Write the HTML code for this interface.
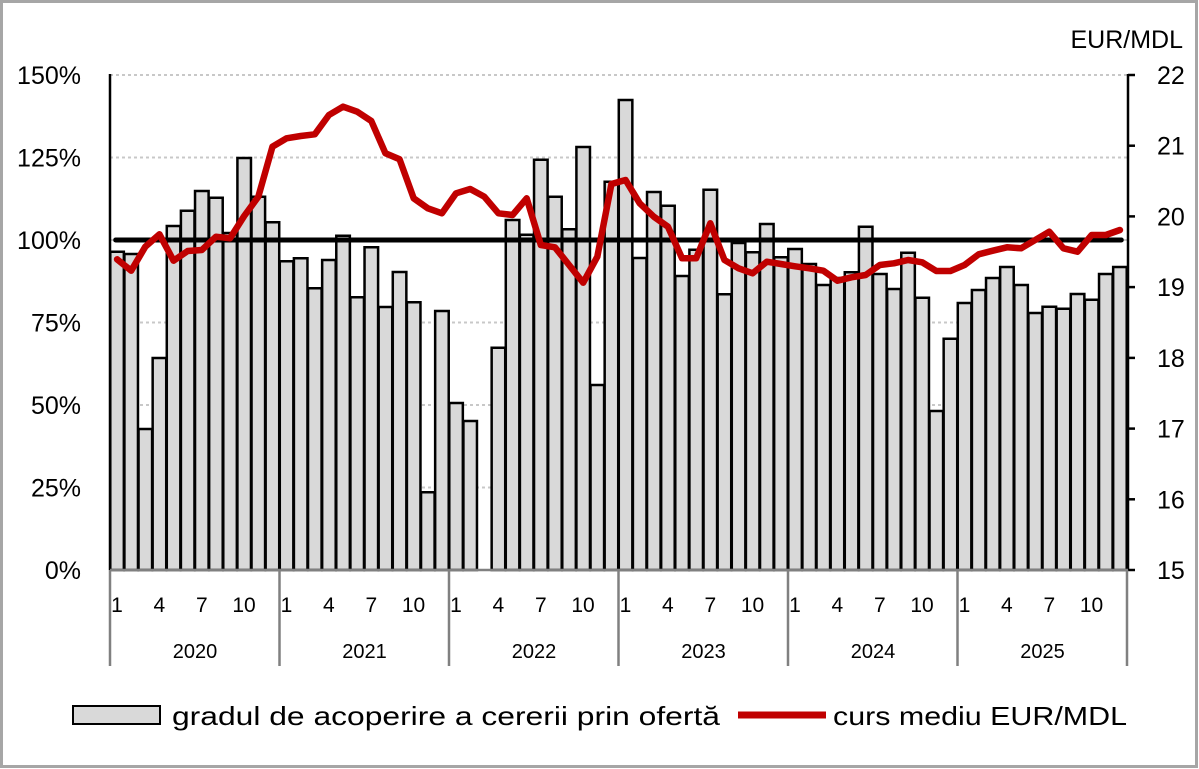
<!DOCTYPE html>
<html><head><meta charset="utf-8"><style>
html,body{margin:0;padding:0;background:#fff;}
svg{display:block;font-family:"Liberation Sans",sans-serif;}
</style></head><body>
<svg width="1199" height="769" viewBox="0 0 1199 769" xmlns="http://www.w3.org/2000/svg">
<rect x="1.5" y="1.5" width="1195" height="765" fill="#fff" stroke="#a6a6a6" stroke-width="3"/>
<g stroke="#c8c8c8" stroke-width="2" stroke-dasharray="3,3">
<line x1="110" y1="75" x2="1127" y2="75"/>
<line x1="110" y1="157.5" x2="1127" y2="157.5"/>
<line x1="110" y1="240" x2="1127" y2="240"/>
<line x1="110" y1="322.5" x2="1127" y2="322.5"/>
<line x1="110" y1="405" x2="1127" y2="405"/>
<line x1="110" y1="487.5" x2="1127" y2="487.5"/>
</g>
<svg x="110" y="0" width="1017" height="570" viewBox="0 0 72 570" preserveAspectRatio="none" overflow="visible">
<g fill="#d9d9d9" stroke="#000" stroke-width="2.5">
<rect vector-effect="non-scaling-stroke" x="0.02" y="251.7" width="0.96" height="318.3"/>
<rect vector-effect="non-scaling-stroke" x="1.02" y="254" width="0.96" height="316"/>
<rect vector-effect="non-scaling-stroke" x="2.02" y="429" width="0.96" height="141"/>
<rect vector-effect="non-scaling-stroke" x="3.02" y="358" width="0.96" height="212"/>
<rect vector-effect="non-scaling-stroke" x="4.02" y="226" width="0.96" height="344"/>
<rect vector-effect="non-scaling-stroke" x="5.02" y="210.7" width="0.96" height="359.3"/>
<rect vector-effect="non-scaling-stroke" x="6.02" y="191" width="0.96" height="379"/>
<rect vector-effect="non-scaling-stroke" x="7.02" y="197.7" width="0.96" height="372.3"/>
<rect vector-effect="non-scaling-stroke" x="8.02" y="233" width="0.96" height="337"/>
<rect vector-effect="non-scaling-stroke" x="9.02" y="158" width="0.96" height="412"/>
<rect vector-effect="non-scaling-stroke" x="10.02" y="196.7" width="0.96" height="373.3"/>
<rect vector-effect="non-scaling-stroke" x="11.02" y="222.3" width="0.96" height="347.7"/>
<rect vector-effect="non-scaling-stroke" x="12.02" y="261.3" width="0.96" height="308.7"/>
<rect vector-effect="non-scaling-stroke" x="13.02" y="258.3" width="0.96" height="311.7"/>
<rect vector-effect="non-scaling-stroke" x="14.02" y="288.3" width="0.96" height="281.7"/>
<rect vector-effect="non-scaling-stroke" x="15.02" y="260" width="0.96" height="310"/>
<rect vector-effect="non-scaling-stroke" x="16.02" y="235.7" width="0.96" height="334.3"/>
<rect vector-effect="non-scaling-stroke" x="17.02" y="297.3" width="0.96" height="272.7"/>
<rect vector-effect="non-scaling-stroke" x="18.02" y="247.3" width="0.96" height="322.7"/>
<rect vector-effect="non-scaling-stroke" x="19.02" y="307" width="0.96" height="263"/>
<rect vector-effect="non-scaling-stroke" x="20.02" y="272" width="0.96" height="298"/>
<rect vector-effect="non-scaling-stroke" x="21.02" y="302.3" width="0.96" height="267.7"/>
<rect vector-effect="non-scaling-stroke" x="22.02" y="492.3" width="0.96" height="77.7"/>
<rect vector-effect="non-scaling-stroke" x="23.02" y="311" width="0.96" height="259"/>
<rect vector-effect="non-scaling-stroke" x="24.02" y="403" width="0.96" height="167"/>
<rect vector-effect="non-scaling-stroke" x="25.02" y="421" width="0.96" height="149"/>
<rect vector-effect="non-scaling-stroke" x="27.02" y="347.7" width="0.96" height="222.3"/>
<rect vector-effect="non-scaling-stroke" x="28.02" y="220" width="0.96" height="350"/>
<rect vector-effect="non-scaling-stroke" x="29.02" y="234.7" width="0.96" height="335.3"/>
<rect vector-effect="non-scaling-stroke" x="30.02" y="159.7" width="0.96" height="410.3"/>
<rect vector-effect="non-scaling-stroke" x="31.02" y="196.7" width="0.96" height="373.3"/>
<rect vector-effect="non-scaling-stroke" x="32.02" y="229.3" width="0.96" height="340.7"/>
<rect vector-effect="non-scaling-stroke" x="33.02" y="147" width="0.96" height="423"/>
<rect vector-effect="non-scaling-stroke" x="34.02" y="385" width="0.96" height="185"/>
<rect vector-effect="non-scaling-stroke" x="35.02" y="181.7" width="0.96" height="388.3"/>
<rect vector-effect="non-scaling-stroke" x="36.02" y="100" width="0.96" height="470"/>
<rect vector-effect="non-scaling-stroke" x="37.02" y="258" width="0.96" height="312"/>
<rect vector-effect="non-scaling-stroke" x="38.02" y="192" width="0.96" height="378"/>
<rect vector-effect="non-scaling-stroke" x="39.02" y="205.7" width="0.96" height="364.3"/>
<rect vector-effect="non-scaling-stroke" x="40.02" y="276" width="0.96" height="294"/>
<rect vector-effect="non-scaling-stroke" x="41.02" y="249.7" width="0.96" height="320.3"/>
<rect vector-effect="non-scaling-stroke" x="42.02" y="189.7" width="0.96" height="380.3"/>
<rect vector-effect="non-scaling-stroke" x="43.02" y="294.3" width="0.96" height="275.7"/>
<rect vector-effect="non-scaling-stroke" x="44.02" y="243" width="0.96" height="327"/>
<rect vector-effect="non-scaling-stroke" x="45.02" y="252.3" width="0.96" height="317.7"/>
<rect vector-effect="non-scaling-stroke" x="46.02" y="224" width="0.96" height="346"/>
<rect vector-effect="non-scaling-stroke" x="47.02" y="257.3" width="0.96" height="312.7"/>
<rect vector-effect="non-scaling-stroke" x="48.02" y="249" width="0.96" height="321"/>
<rect vector-effect="non-scaling-stroke" x="49.02" y="264" width="0.96" height="306"/>
<rect vector-effect="non-scaling-stroke" x="50.02" y="285" width="0.96" height="285"/>
<rect vector-effect="non-scaling-stroke" x="51.02" y="278" width="0.96" height="292"/>
<rect vector-effect="non-scaling-stroke" x="52.02" y="272.3" width="0.96" height="297.7"/>
<rect vector-effect="non-scaling-stroke" x="53.02" y="226.7" width="0.96" height="343.3"/>
<rect vector-effect="non-scaling-stroke" x="54.02" y="274" width="0.96" height="296"/>
<rect vector-effect="non-scaling-stroke" x="55.02" y="289" width="0.96" height="281"/>
<rect vector-effect="non-scaling-stroke" x="56.02" y="252.7" width="0.96" height="317.3"/>
<rect vector-effect="non-scaling-stroke" x="57.02" y="297.7" width="0.96" height="272.3"/>
<rect vector-effect="non-scaling-stroke" x="58.02" y="411" width="0.96" height="159"/>
<rect vector-effect="non-scaling-stroke" x="59.02" y="338.7" width="0.96" height="231.3"/>
<rect vector-effect="non-scaling-stroke" x="60.02" y="303" width="0.96" height="267"/>
<rect vector-effect="non-scaling-stroke" x="61.02" y="290" width="0.96" height="280"/>
<rect vector-effect="non-scaling-stroke" x="62.02" y="278" width="0.96" height="292"/>
<rect vector-effect="non-scaling-stroke" x="63.02" y="267" width="0.96" height="303"/>
<rect vector-effect="non-scaling-stroke" x="64.02" y="285" width="0.96" height="285"/>
<rect vector-effect="non-scaling-stroke" x="65.02" y="313" width="0.96" height="257"/>
<rect vector-effect="non-scaling-stroke" x="66.02" y="306.7" width="0.96" height="263.3"/>
<rect vector-effect="non-scaling-stroke" x="67.02" y="308.7" width="0.96" height="261.3"/>
<rect vector-effect="non-scaling-stroke" x="68.02" y="294" width="0.96" height="276"/>
<rect vector-effect="non-scaling-stroke" x="69.02" y="299.7" width="0.96" height="270.3"/>
<rect vector-effect="non-scaling-stroke" x="70.02" y="274" width="0.96" height="296"/>
<rect vector-effect="non-scaling-stroke" x="71.02" y="267" width="0.96" height="303"/>
</g>
<line x1="0.4" y1="240" x2="71.6" y2="240" stroke="#000" stroke-width="5" stroke-linecap="round" vector-effect="non-scaling-stroke"/>
<polyline fill="none" stroke="#c00000" stroke-width="6.5" stroke-linejoin="round" stroke-linecap="round" vector-effect="non-scaling-stroke" points="0.5,259.3 1.5,270.7 2.5,246.7 3.5,234.3 4.5,260.7 5.5,251 6.5,250 7.5,236.7 8.5,238.3 9.5,216 10.5,196.7 11.5,146.7 12.5,138.3 13.5,136 14.5,134.3 15.5,115 16.5,106.7 17.5,111.7 18.5,121 19.5,153.3 20.5,159.3 21.5,198.3 22.5,208.3 23.5,213.3 24.5,193.3 25.5,189 26.5,196.7 27.5,213.3 28.5,215 29.5,198.3 30.5,245 31.5,247.3 32.5,265 33.5,282.7 34.5,256.7 35.5,184 36.5,180 37.5,203.3 38.5,216.7 39.5,226.7 40.5,258.3 41.5,258.3 42.5,223.3 43.5,260 44.5,268.3 45.5,273.3 46.5,261.7 47.5,264 48.5,266.3 49.5,268.3 50.5,270.7 51.5,280.7 52.5,277.3 53.5,275 54.5,265 55.5,263.3 56.5,260 57.5,262.3 58.5,271 59.5,271 60.5,265 61.5,254.3 62.5,250.7 63.5,247.3 64.5,248.3 65.5,240 66.5,231.7 67.5,248.3 68.5,251.7 69.5,235 70.5,235 71.5,230"/>
</svg>
<line x1="110" y1="74" x2="110" y2="570" stroke="#000" stroke-width="2.5"/>
<line x1="1128" y1="74" x2="1128" y2="571" stroke="#000" stroke-width="2.5"/>
<g stroke="#000" stroke-width="2.5">
<line x1="1128" y1="75" x2="1135" y2="75"/><line x1="1128" y1="145.7" x2="1135" y2="145.7"/>
<line x1="1128" y1="216.4" x2="1135" y2="216.4"/><line x1="1128" y1="287.1" x2="1135" y2="287.1"/>
<line x1="1128" y1="357.9" x2="1135" y2="357.9"/><line x1="1128" y1="428.6" x2="1135" y2="428.6"/>
<line x1="1128" y1="499.3" x2="1135" y2="499.3"/><line x1="1128" y1="570" x2="1135" y2="570"/>
</g>
<g stroke="#808080" stroke-width="2.5">
<line x1="110" y1="570" x2="1128" y2="570"/>
<line x1="110" y1="570" x2="110" y2="666"/><line x1="279.5" y1="570" x2="279.5" y2="666"/>
<line x1="449" y1="570" x2="449" y2="666"/><line x1="618.5" y1="570" x2="618.5" y2="666"/>
<line x1="788" y1="570" x2="788" y2="666"/><line x1="957.5" y1="570" x2="957.5" y2="666"/>
<line x1="1127" y1="570" x2="1127" y2="666"/>
</g>
<g font-size="25" fill="#000" text-anchor="end">
<text x="81" y="84">150%</text><text x="81" y="166.5">125%</text><text x="81" y="249">100%</text>
<text x="81" y="331.5">75%</text><text x="81" y="414">50%</text><text x="81" y="496.5">25%</text><text x="81" y="579">0%</text>
</g>
<g font-size="25" fill="#000">
<text x="1157" y="84">22</text><text x="1157" y="154.7">21</text><text x="1157" y="225.4">20</text>
<text x="1157" y="296.1">19</text><text x="1157" y="366.9">18</text><text x="1157" y="437.6">17</text>
<text x="1157" y="508.3">16</text><text x="1157" y="579">15</text>
</g>
<text x="1183" y="48" font-size="25" text-anchor="end">EUR/MDL</text>
<g font-size="21" text-anchor="middle">
<text x="117" y="612">1</text><text x="159.4" y="612">4</text><text x="201.8" y="612">7</text><text x="244" y="612">10</text>
<text x="286.5" y="612">1</text><text x="328.9" y="612">4</text><text x="371.3" y="612">7</text><text x="413.5" y="612">10</text>
<text x="456" y="612">1</text><text x="498.4" y="612">4</text><text x="540.8" y="612">7</text><text x="583" y="612">10</text>
<text x="625.5" y="612">1</text><text x="667.9" y="612">4</text><text x="710.3" y="612">7</text><text x="752.5" y="612">10</text>
<text x="795" y="612">1</text><text x="837.4" y="612">4</text><text x="879.8" y="612">7</text><text x="922" y="612">10</text>
<text x="964.5" y="612">1</text><text x="1006.9" y="612">4</text><text x="1049.3" y="612">7</text><text x="1091.5" y="612">10</text>
</g>
<g font-size="20" text-anchor="middle">
<text x="195" y="658">2020</text><text x="364.5" y="658">2021</text><text x="534" y="658">2022</text>
<text x="703.5" y="658">2023</text><text x="873" y="658">2024</text><text x="1042.5" y="658">2025</text>
</g>
<rect x="73" y="706" width="87" height="18" fill="#d9d9d9" stroke="#000" stroke-width="2"/>
<text x="172" y="725" font-size="26" textLength="548" lengthAdjust="spacingAndGlyphs">gradul de acoperire a cererii prin ofertă</text>
<line x1="738" y1="715" x2="826" y2="715" stroke="#c00000" stroke-width="7"/>
<text x="833" y="725" font-size="26" textLength="294" lengthAdjust="spacingAndGlyphs">curs mediu EUR/MDL</text>
</svg>
</body></html>
